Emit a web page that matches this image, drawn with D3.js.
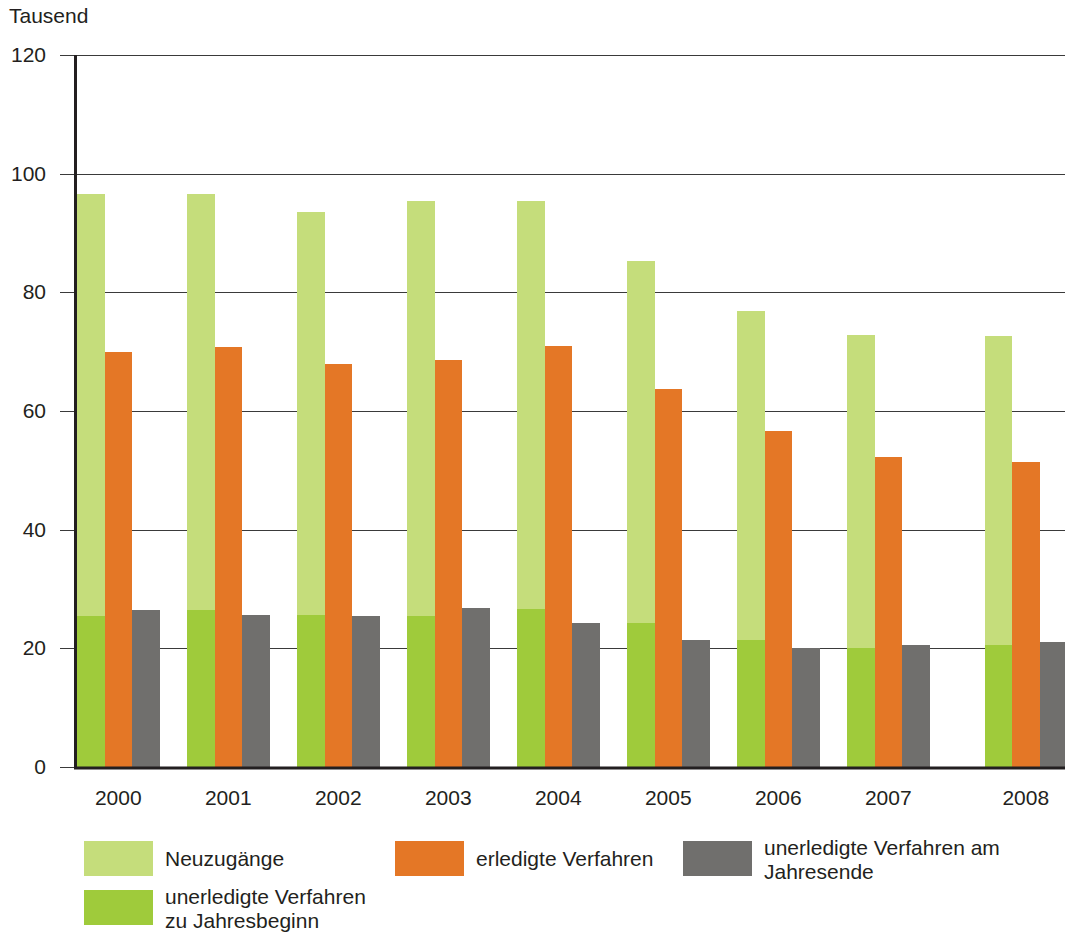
<!DOCTYPE html>
<html>
<head>
<meta charset="utf-8">
<script src="https://cdn.jsdelivr.net/npm/d3@7"></script>
<style>
    body { margin: 0; background: #fff; }
    #chart-container { width: 1065px; height: 934px; overflow: hidden; }
    text { font-family: 'Liberation Sans', Arial, sans-serif; fill: #231f20; }
</style>
</head>
<body>
<div id="chart-container"></div>
<script>
//data
var years = ['2000', '2001', '2002', '2003', '2004', '2005', '2006', '2007', '2008'];
var pendingStart = [25.5, 26.5, 25.6, 25.5, 26.6, 24.3, 21.4, 20.1, 20.6];
var newCases = [71.1, 70.1, 67.9, 69.9, 68.8, 61.0, 55.5, 52.7, 52.0];
var completed = [70.0, 70.8, 67.9, 68.6, 71.0, 63.7, 56.6, 52.2, 51.4];
var pendingEnd = [26.5, 25.6, 25.5, 26.8, 24.3, 21.4, 20.1, 20.6, 21.1];
var yTicks = [0, 20, 40, 60, 80, 100, 120];

var legendItems = [
    {label: ['Neuzugänge'], color: '#c5dd7b', col: 0, row: 0},
    {label: ['erledigte Verfahren'], color: '#e47726', col: 1, row: 0},
    {label: ['unerledigte Verfahren am', 'Jahresende'], color: '#706f6d', col: 2, row: 0},
    {label: ['unerledigte Verfahren', 'zu Jahresbeginn'], color: '#9fcb3b', col: 0, row: 1}
];

//colors
var colLight = '#c5dd7b',
    colDark = '#9fcb3b',
    colOrange = '#e47726',
    colGray = '#706f6d';

//sizes
var outerW = 1065,
    outerH = 934,
    plotLeft = 75,
    plotTop = 55,
    plotBottom = 767,
    slotW = 27.5,
    fontSize = '21px',
    gapBefore = ['2008']; // extra empty slot before this year in the original

var svg = d3.select('#chart-container').append('svg')
    .attr('width', outerW)
    .attr('height', outerH);

var yScale = d3.scaleLinear().domain([0, 120]).range([plotBottom, plotTop]);

// each year takes 4 slots (3 bars + gap)
var slotStart = [];
var extra = 0;
years.forEach(function(y, i) {
    if (gapBefore.indexOf(y) > -1) extra++;
    slotStart.push(i * 4 + extra);
});
var xScale = d3.scaleLinear().domain([0, 36]).range([plotLeft + 2, plotLeft + 2 + 36 * slotW]);

//gridlines
svg.append('g')
    .selectAll('line')
    .data(yTicks)
    .enter()
    .append('line')
    .attr('x1', 60)
    .attr('x2', outerW)
    .attr('y1', function(d) { return Math.round(yScale(d)) + 0.5; })
    .attr('y2', function(d) { return Math.round(yScale(d)) + 0.5; })
    .attr('stroke', '#3a3a3a')
    .attr('stroke-width', 1.2);

//y labels
svg.append('g')
    .selectAll('text')
    .data(yTicks)
    .enter()
    .append('text')
    .attr('x', 46)
    .attr('y', function(d) { return yScale(d) + 7; })
    .attr('text-anchor', 'end')
    .style('font-size', fontSize)
    .text(function(d) { return d; });

svg.append('text')
    .attr('x', 9)
    .attr('y', 23)
    .style('font-size', fontSize)
    .text('Tausend');

//bars
var barsG = svg.append('g');
years.forEach(function(y, i) {
    var s = slotStart[i];
    var total = pendingStart[i] + newCases[i];
    var bars = [
        {slot: s, v0: 0, v1: pendingStart[i], color: colDark},
        {slot: s, v0: pendingStart[i], v1: total, color: colLight},
        {slot: s + 1, v0: 0, v1: completed[i], color: colOrange},
        {slot: s + 2, v0: 0, v1: pendingEnd[i], color: colGray}
    ];
    barsG.selectAll('.bar-' + y)
        .data(bars)
        .enter()
        .append('rect')
        .attr('class', 'bar-' + y)
        .attr('x', function(d) { return xScale(d.slot); })
        .attr('width', function(d) { return xScale(d.slot + 1) - xScale(d.slot); })
        .attr('y', function(d) { return yScale(d.v1); })
        .attr('height', function(d) { return yScale(d.v0) - yScale(d.v1); })
        .attr('fill', function(d) { return d.color; })
        .attr('shape-rendering', 'crispEdges');
});

//axes
svg.append('line')
    .attr('x1', plotLeft + 0.5)
    .attr('x2', plotLeft + 0.5)
    .attr('y1', plotTop)
    .attr('y2', plotBottom + 2)
    .attr('stroke', '#231f20')
    .attr('stroke-width', 3);

svg.append('line')
    .attr('x1', plotLeft - 1)
    .attr('x2', outerW)
    .attr('y1', plotBottom + 1)
    .attr('y2', plotBottom + 1)
    .attr('stroke', '#231f20')
    .attr('stroke-width', 3);

//year labels, centered on orange bar
svg.append('g')
    .selectAll('text')
    .data(years)
    .enter()
    .append('text')
    .attr('x', function(d, i) { return xScale(slotStart[i] + 1.5); })
    .attr('y', 805)
    .attr('text-anchor', 'middle')
    .style('font-size', fontSize)
    .text(function(d) { return d; });

//legend
var legendColX = [84, 395, 683],
    legendRowY = [841, 890];

var legendG = svg.append('g')
    .selectAll('g')
    .data(legendItems)
    .enter()
    .append('g')
    .attr('transform', function(d) { return 'translate(' + legendColX[d.col] + ',' + legendRowY[d.row] + ')'; });

legendG.append('rect')
    .attr('width', 69)
    .attr('height', 35)
    .attr('fill', function(d) { return d.color; });

legendG.each(function(d) {
    var t = d3.select(this).append('text')
        .attr('x', 81)
        .attr('y', d.label.length == 1 ? 25 : 14)
        .style('font-size', fontSize);
    d.label.forEach(function(line, k) {
        t.append('tspan')
            .attr('x', 81)
            .attr('dy', k == 0 ? 0 : 24)
            .text(line);
    });
});
</script>
</body>
</html>
